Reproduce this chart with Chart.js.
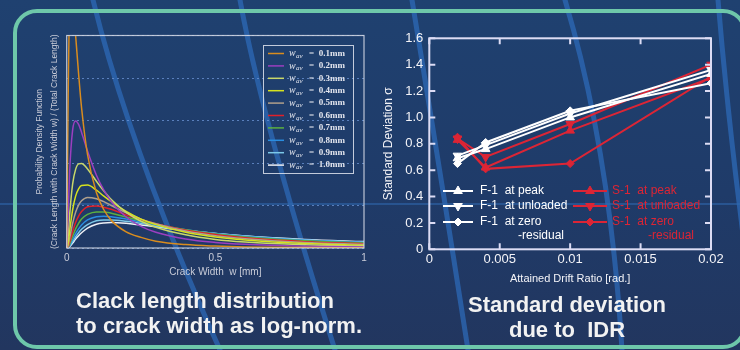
<!DOCTYPE html>
<html>
<head>
<meta charset="utf-8">
<script src="https://cdn.jsdelivr.net/npm/chart.js@4.4.0/dist/chart.umd.min.js"></script>
<style>
  html, body { margin: 0; padding: 0; }
  body {
    width: 740px; height: 350px; overflow: hidden; position: relative;
    background: linear-gradient(180deg, #1f4170 0%, #1f3b69 55%, #22365f 100%);
    font-family: 'Liberation Sans', Arial, sans-serif;
  }
  #deco { position: absolute; left: 0; top: 0; }
  .frame {
    position: absolute; left: 13px; top: 9px; width: 734px; height: 340px;
    box-sizing: border-box; border: 4px solid #6ec8aa; border-radius: 24px;
  }
  #pdfWrap { position: absolute; left: 0; top: 0; width: 380px; height: 290px; }
  #sdWrap { position: absolute; left: 380px; top: 0; width: 360px; height: 300px; }
  .caption {
    position: absolute; color: #f2f2f2; font-weight: bold; font-size: 22px;
    white-space: pre; line-height: 25px;
  }
</style>
</head>
<body>
<svg id="deco" width="740" height="350">
  <g fill="none" stroke="#2d6cbc" stroke-width="5" stroke-opacity="0.7" stroke-linecap="round">
    <path d="M93 0 Q130 150 220 350"/>
    <path d="M240 0 Q262 120 335 350"/>
    <path d="M412 0 Q440 170 468 350"/>
    <path d="M565 0 Q610 150 622 350"/>
    <path d="M718 0 Q728 120 745 250"/>
  </g>
  <line x1="0" y1="204" x2="740" y2="204" stroke="#3069b0" stroke-opacity="0.55" stroke-width="2"/>
</svg>
<div class="frame"></div>
<div id="pdfWrap"><canvas id="pdfChart" width="380" height="290"></canvas></div>
<div id="sdWrap"><canvas id="sdChart" width="360" height="300"></canvas></div>
<div class="caption" style="left:76px; top:288px;">Clack length distribution
to crack width as log-norm.</div>
<div class="caption" style="left:440px; top:292px; width:254px; text-align:center;">Standard deviation
due to  IDR</div>

<script>
// ---- left chart: crack width distribution ----
const crackWidths = [0, 0.005, 0.01, 0.02, 0.03, 0.04, 0.05, 0.07, 0.1, 0.125, 0.15, 0.2, 0.25, 0.3, 0.4, 0.5, 0.6, 0.8, 1.0];
const wavLabels = ['0.1mm', '0.2mm', '0.3mm', '0.4mm', '0.5mm', '0.6mm', '0.7mm', '0.8mm', '0.9mm', '1.0mm'];
const pdf01 = [0, 3.6, 5.6, 5.8, 5.0, 4.1, 3.3, 2.2, 1.3, 0.9, 0.65, 0.38, 0.25, 0.16, 0.08, 0.045, 0.025, 0.01, 0.004];
const pdf02 = [0, 0.80, 1.81, 2.78, 2.99, 2.91, 2.72, 2.28, 1.71, 1.36, 1.09, 0.73, 0.51, 0.37, 0.21, 0.13, 0.087, 0.043, 0.024];
const pdf03 = [0, 0.28, 0.79, 1.51, 1.85, 1.98, 1.99, 1.86, 1.57, 1.34, 1.14, 0.84, 0.63, 0.49, 0.31, 0.20, 0.14, 0.076, 0.045];
const pdf04 = [0, 0.12, 0.40, 0.90, 1.22, 1.39, 1.47, 1.48, 1.36, 1.22, 1.09, 0.86, 0.68, 0.55, 0.37, 0.26, 0.19, 0.107, 0.066];
const pdf05 = [0, 0.06, 0.23, 0.58, 0.84, 1.01, 1.11, 1.19, 1.16, 1.09, 1.00, 0.83, 0.68, 0.57, 0.40, 0.29, 0.22, 0.13, 0.086];
const pdf06 = [0, 0.034, 0.14, 0.39, 0.60, 0.75, 0.86, 0.97, 0.99, 0.96, 0.91, 0.78, 0.67, 0.57, 0.42, 0.32, 0.24, 0.15, 0.10];
const pdf07 = [0, 0.02, 0.09, 0.28, 0.45, 0.58, 0.68, 0.79, 0.85, 0.85, 0.82, 0.73, 0.64, 0.56, 0.43, 0.33, 0.26, 0.17, 0.116];
const pdf08 = [0, 0.012, 0.06, 0.20, 0.34, 0.45, 0.54, 0.66, 0.735, 0.75, 0.735, 0.68, 0.61, 0.54, 0.43, 0.34, 0.27, 0.18, 0.13];
const pdf09 = [0, 0.008, 0.042, 0.15, 0.26, 0.36, 0.44, 0.55, 0.64, 0.66, 0.66, 0.63, 0.58, 0.52, 0.42, 0.34, 0.28, 0.19, 0.14];
const pdf10 = [0, 0.006, 0.03, 0.114, 0.21, 0.29, 0.36, 0.47, 0.56, 0.59, 0.60, 0.58, 0.54, 0.50, 0.41, 0.34, 0.28, 0.20, 0.15];
const pdfSeries = [pdf01, pdf02, pdf03, pdf04, pdf05, pdf06, pdf07, pdf08, pdf09, pdf10];
const pdfColors = ['#d98c1e', '#9b3fc0', '#c9d86a', '#d6e21e', '#b0a08c', '#e0202a', '#5cb040', '#2a8de0', '#7cc8e8', '#eef0f6'];
const pdfXTicks = ['0', '0.5', '1'];

// ---- right chart: standard deviation vs drift ratio ----
const driftRatios = [0.002, 0.004, 0.01, 0.02];
const f1Peak = [0.69, 0.76, 1.00, 1.33];
const f1Unloaded = [0.71, 0.79, 1.03, 1.36];
const f1Zero = [0.65, 0.81, 1.05, 1.26];
const s1Peak = [0.83, 0.62, 0.90, 1.30];
const s1Unloaded = [0.84, 0.70, 0.95, 1.40];
const s1Zero = [0.85, 0.61, 0.65, 1.31];
const sdLabels = ['F-1  at peak', 'F-1  at unloaded', 'F-1  at zero', 'S-1  at peak', 'S-1  at unloaded', 'S-1  at zero'];
const sdXTicks = ['0', '0.005', '0.01', '0.015', '0.02'];
const sdYTicks = ['0', '0.2', '0.4', '0.6', '0.8', '1.0', '1.2', '1.4', '1.6'];

const WHITE = '#ffffff';
const RED = '#dc2535';

Chart.defaults.font.family = "'Liberation Sans', Arial, sans-serif";

function toPoints(xs, ys) {
    return xs.map((x, i) => ({ x: x, y: ys[i] }));
}

const pdfFrame = {
    id: 'pdfFrame',
    afterDraw(chart) {
        const ctx = chart.ctx;
        const a = chart.chartArea;
        ctx.save();
        ctx.strokeStyle = 'rgba(215,220,232,0.85)';
        ctx.lineWidth = 1.2;
        ctx.strokeRect(a.left, a.top, a.right - a.left, a.bottom - a.top);

        // legend box
        ctx.strokeStyle = 'rgba(225,228,238,0.85)';
        ctx.lineWidth = 1;
        ctx.strokeRect(263.5, 45.5, 90, 128);
        ctx.textBaseline = 'middle';
        chart.data.datasets.forEach((ds, i) => {
            const y = 53.5 + i * 12.4;
            ctx.strokeStyle = ds.borderColor;
            ctx.lineWidth = 1.5;
            ctx.beginPath();
            ctx.moveTo(268, y);
            ctx.lineTo(284, y);
            ctx.stroke();
            ctx.fillStyle = '#e4e6ee';
            ctx.font = 'italic 10px "Liberation Serif"';
            ctx.fillText('w', 289, y);
            ctx.font = 'italic 7px "Liberation Serif"';
            ctx.fillText('av', 296, y + 2.5);
            ctx.font = 'bold 9px "Liberation Serif"';
            ctx.fillText('=  ' + wavLabels[i], 309, y);
        });
        ctx.restore();
    }
};

new Chart(document.getElementById('pdfChart'), {
    type: 'line',
    data: {
        datasets: pdfSeries.map((s, i) => ({
            label: wavLabels[i],
            data: toPoints(crackWidths, s),
            borderColor: pdfColors[i],
            borderWidth: 1.5,
            pointRadius: 0,
            cubicInterpolationMode: 'monotone',
            fill: false,
        }))
    },
    options: {
        responsive: false,
        animation: false,
        layout: { padding: { top: 35.5, right: 16, left: 0, bottom: 0 } },
        plugins: { legend: { display: false }, tooltip: { enabled: false } },
        scales: {
            x: {
                type: 'linear',
                min: 0,
                max: 1,
                afterFit(scale) { scale.height = 42; },
                grid: { display: false, drawTicks: false },
                border: { display: false },
                ticks: {
                    stepSize: 0.5,
                    padding: 4,
                    color: '#c9ccd8',
                    font: { size: 10 },
                    callback: (v, i) => pdfXTicks[i]
                },
                title: {
                    display: true,
                    text: 'Crack Width  w [mm]',
                    color: '#c9ccd8',
                    font: { size: 10 },
                    padding: { top: 0, bottom: 12 }
                }
            },
            y: {
                min: 0,
                max: 5,
                afterFit(scale) { scale.width = 66.7; },
                grid: { color: 'rgba(110,150,215,0.75)', lineWidth: 1, drawTicks: false },
                border: { display: false, dash: [2, 3] },
                ticks: { display: false, stepSize: 1 },
                title: {
                    display: true,
                    text: ['Probability Density Function', '(Crack Length with Crack Width w) / (Total Crack Length)'],
                    color: '#c9ccd8',
                    font: { size: 8.5, lineHeight: 1.76 },
                    padding: { top: 32.5, bottom: 0 }
                }
            }
        }
    },
    plugins: [pdfFrame]
});

const sdDecor = {
    id: 'sdDecor',
    afterDraw(chart) {
        const ctx = chart.ctx;
        const a = chart.chartArea;
        const xs = chart.scales.x;
        const ys = chart.scales.y;
        ctx.save();
        ctx.strokeStyle = '#dcdcf4';
        ctx.lineWidth = 2;
        ctx.strokeRect(a.left, a.top, a.right - a.left, a.bottom - a.top);
        ctx.beginPath();
        ys.ticks.forEach(t => {
            const y = ys.getPixelForValue(t.value);
            ctx.moveTo(a.left, y); ctx.lineTo(a.left + 6, y);
            ctx.moveTo(a.right, y); ctx.lineTo(a.right - 6, y);
        });
        xs.ticks.forEach(t => {
            const x = xs.getPixelForValue(t.value);
            ctx.moveTo(x, a.bottom); ctx.lineTo(x, a.bottom - 6);
            ctx.moveTo(x, a.top); ctx.lineTo(x, a.top + 6);
        });
        ctx.stroke();

        // legend
        ctx.font = "12px 'Liberation Sans', Arial, sans-serif";
        ctx.textBaseline = 'middle';
        const cols = [{ x0: 63, x1: 93, tx: 100, rx: 138 }, { x0: 193, x1: 227, tx: 232, rx: 268 }];
        const rows = [191, 206, 222];
        chart.data.datasets.forEach((ds, i) => {
            const c = cols[Math.floor(i / 3)];
            const y = rows[i % 3];
            ctx.strokeStyle = ds.borderColor;
            ctx.fillStyle = ds.borderColor;
            ctx.lineWidth = 2;
            ctx.beginPath();
            ctx.moveTo(c.x0, y); ctx.lineTo(c.x1, y);
            ctx.stroke();
            ctx.lineWidth = 1;
            Chart.helpers.drawPoint(ctx, {
                pointStyle: ds.pointStyle, rotation: ds.rotation || 0,
                radius: ds.pointRadius, borderWidth: 1
            }, (c.x0 + c.x1) / 2, y);
            ctx.fillStyle = ds.borderColor;
            ctx.fillText(sdLabels[i], c.tx, y);
            if (i % 3 === 2) ctx.fillText('-residual', c.rx, 236);
        });
        ctx.restore();
    }
};

function sdSet(ys, color, style, rot) {
    return {
        data: toPoints(driftRatios, ys),
        borderColor: color,
        backgroundColor: color,
        borderWidth: 2,
        pointStyle: style,
        rotation: rot,
        pointRadius: style === 'rectRot' ? 4 : 5,
        pointBorderWidth: 1,
        pointBackgroundColor: color,
        pointBorderColor: color,
        tension: 0,
        fill: false,
    };
}

new Chart(document.getElementById('sdChart'), {
    type: 'line',
    data: {
        datasets: [
            sdSet(f1Peak, WHITE, 'triangle', 0),
            sdSet(f1Unloaded, WHITE, 'triangle', 180),
            sdSet(f1Zero, WHITE, 'rectRot', 0),
            sdSet(s1Peak, RED, 'triangle', 0),
            sdSet(s1Unloaded, RED, 'triangle', 180),
            sdSet(s1Zero, RED, 'rectRot', 0),
        ]
    },
    options: {
        responsive: false,
        animation: false,
        layout: { padding: { top: 38.3, right: 29, left: 0, bottom: 0 } },
        plugins: { legend: { display: false }, tooltip: { enabled: false } },
        scales: {
            x: {
                type: 'linear',
                min: 0,
                max: 0.02,
                afterFit(scale) { scale.height = 50.7; },
                grid: { display: false, drawTicks: false },
                border: { display: false },
                ticks: {
                    stepSize: 0.005,
                    padding: 2,
                    color: '#f4f4f8',
                    font: { size: 13 },
                    callback: (v, i) => sdXTicks[i]
                },
                title: {
                    display: true,
                    text: 'Attained Drift Ratio [rad.]',
                    color: '#f4f4f8',
                    font: { size: 11 },
                    padding: { top: 0, bottom: 14.4 }
                }
            },
            y: {
                min: 0,
                max: 1.6,
                afterFit(scale) { scale.width = 49.3; },
                grid: { display: false, drawTicks: false },
                border: { display: false },
                ticks: {
                    stepSize: 0.2,
                    padding: 6,
                    color: '#f4f4f8',
                    font: { size: 13 },
                    callback: (v, i) => sdYTicks[i]
                },
                title: {
                    display: true,
                    text: 'Standard Deviation σ',
                    color: '#f4f4f8',
                    font: { size: 12 },
                    padding: { top: 1, bottom: 0 }
                }
            }
        }
    },
    plugins: [sdDecor]
});
</script>
</body>
</html>
